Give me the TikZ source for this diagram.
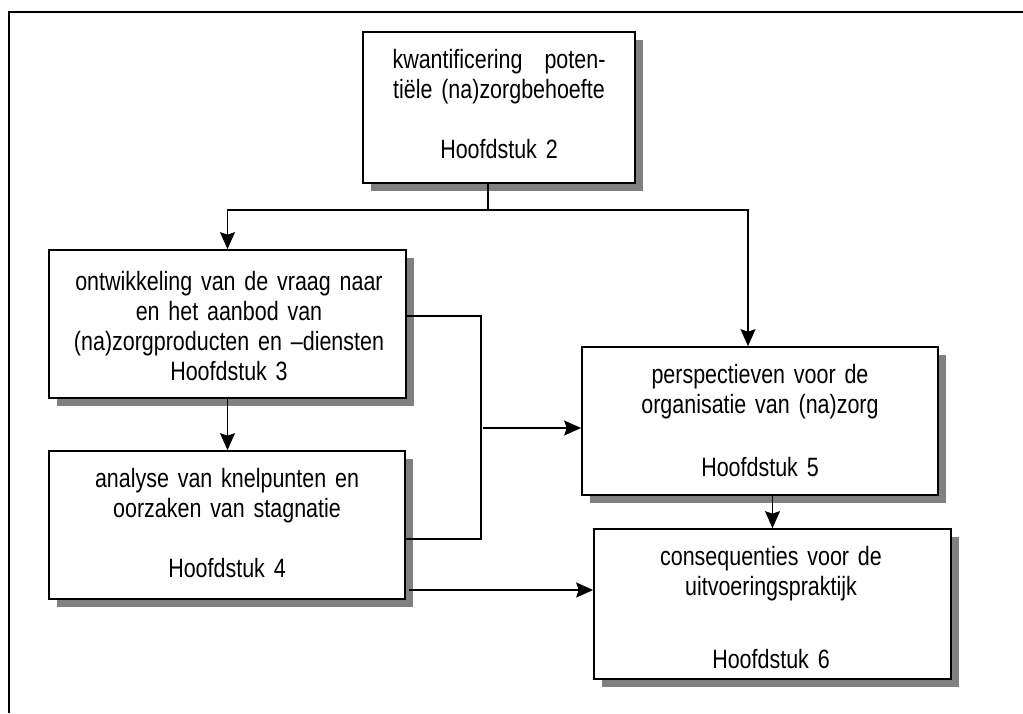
\documentclass[tikz,border=0pt]{standalone}
\usepackage{fontspec}
\setmainfont[FakeStretch=0.81]{Liberation Sans}
\usetikzlibrary{arrows.meta,shadows}
\begin{document}
\begin{tikzpicture}[x=1pt,y=-1pt,
  chap/.style={draw, line width=1.7pt, fill=white, inner sep=0pt,
    drop shadow={shadow xshift=8pt, shadow yshift=-8pt, fill=black!50, opacity=1}},
  chaptext/.style={anchor=north, inner sep=0pt, text width=350pt, align=center,
    font=\fontsize{26.5}{30}\selectfont},
  link/.style={line width=1.4pt},
  arr/.style={link, -{Stealth[length=17pt,width=15pt,inset=2.5pt]}}]
\useasboundingbox (0,0) rectangle (1023,713);

% page frame
\draw[line width=2pt] (9,713) -- (9,12) -- (1023,12);

% chapter boxes
\node[chap, minimum width=272pt, minimum height=151pt] (h2) at (499,107.5) {};
\node[chap, minimum width=357pt, minimum height=148pt] (h3) at (227.5,324) {};
\node[chap, minimum width=356pt, minimum height=148pt] (h4) at (227,525) {};
\node[chap, minimum width=356pt, minimum height=148pt] (h5) at (760,421) {};
\node[chap, minimum width=357pt, minimum height=150pt] (h6) at (772.5,604) {};

% box texts
\node[chaptext] (h2t) at (499,47)
  {\strut kwantificering\hspace{0.83em}poten-\\tiële (na)zorgbehoefte\\[30pt]Hoofdstuk 2};
\node[chaptext] (h3t) at (229,269)
  {\strut ontwikkeling van de vraag naar\\en het aanbod van\\(na)zorgproducten en –diensten\\Hoofdstuk 3};
\node[chaptext] (h4t) at (227,466)
  {\strut analyse van knelpunten en\\oorzaken van stagnatie\\[30pt]Hoofdstuk 4};
\node[chaptext] (h5t) at (760,362)
  {\strut perspectieven voor de\\organisatie van (na)zorg\\[33pt]Hoofdstuk 5};
\node[chaptext] (h6t) at (771,544)
  {\strut consequenties voor de\\uitvoeringspraktijk\\[43pt]Hoofdstuk 6};

% connectors
\coordinate (split) at (488,210);
\draw[link] (split |- h2.south) -- (split);
\draw[arr] (split) -| (h3.north);
\draw[arr] (split) -| ([xshift=-12pt]h5.north);
\draw[arr] (h3.south) -- (h3.south |- h4.north);

\coordinate (bus) at (481,316);
\coordinate (busend) at (481,539);
\draw[link] (h3.east |- bus) -- (bus) -- (busend) -- (h4.east |- busend);

\coordinate (feed) at (483,428);
\draw[arr] (feed) -- (h5.west |- feed);

\draw[arr] (h6.north |- h5.south) -- (h6.north);

\coordinate (out4) at (409,590);
\draw[arr] (out4) -- (h6.west |- out4);
\end{tikzpicture}
\end{document}
